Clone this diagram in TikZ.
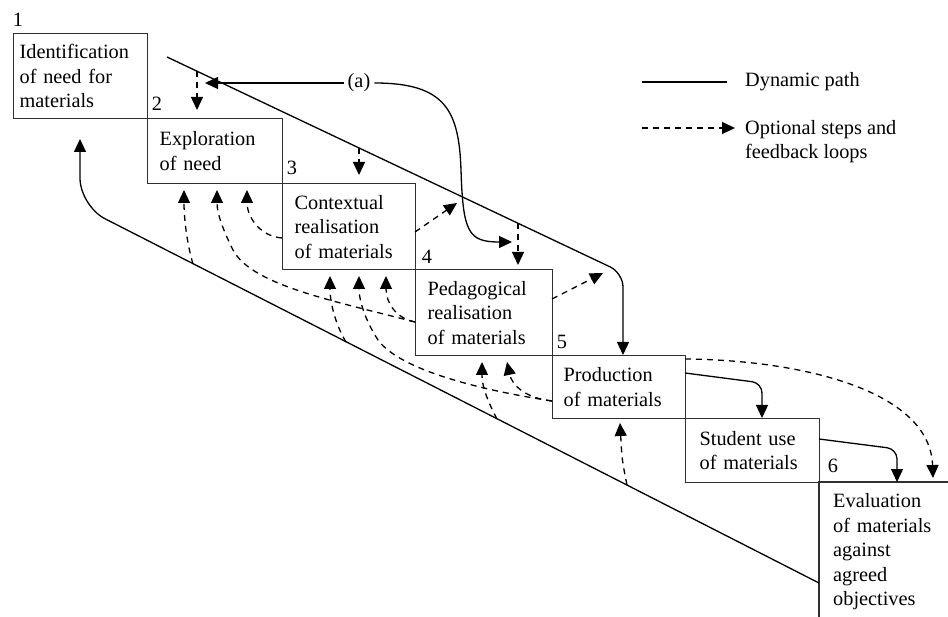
\documentclass[tikz,border=0pt]{standalone}
\usepackage{fontspec}
\setmainfont{Liberation Serif}
\usetikzlibrary{arrows.meta,calc}
\newcommand\diafont{\fontsize{20.3}{24.5}\selectfont}
\definecolor{boxgray}{HTML}{303030}
\tikzset{
  box/.style={draw=boxgray, line width=1.3pt, anchor=north west, align=left,
    inner ysep=0pt, font=\diafont},
  plain/.style={anchor=north west, align=left, inner ysep=0pt, font=\diafont},
  lbl/.style={inner sep=0pt, font=\diafont},
  tip/.style={-{Triangle[length=13pt,width=12pt]}},
  dyn/.style={line width=1.3pt, tip},
  opt/.style={line width=1.3pt, dash pattern=on 6pt off 5pt, tip},
  legline/.style={line width=1.3pt},
}
\begin{document}
\begin{tikzpicture}[x=1pt,y=-1pt]
\useasboundingbox (0,0) rectangle (948,617);

% boxes
\node[box, inner xsep=6pt, text width=122pt, minimum height=85pt] (b1) at (13,33)
  {Identification\\of need for\\materials};
\node[box, inner xsep=12pt, text width=111pt, minimum height=65pt] (b2) at (147,118)
  {Exploration\\of need};
\node[box, inner xsep=12pt, text width=109pt, minimum height=86pt] (b3) at (282,183)
  {Contextual\\realisation\\of materials};
\node[box, inner xsep=12pt, text width=113pt, minimum height=86pt] (b4) at (415,269)
  {Pedagogical\\realisation\\of materials};
\node[box, inner xsep=11pt, text width=111pt, minimum height=63pt] (b5) at (552,355)
  {Production\\of materials};
\node[box, inner xsep=14pt, text width=106pt, minimum height=64pt] (b6) at (685,418)
  {Student use\\of materials};
\node[plain, inner xsep=14pt, text width=120pt, minimum height=139pt] (b7) at (819,482)
  {Evaluation\\of materials\\against\\agreed\\objectives};
\draw[draw=boxgray, line width=1.3pt] (b7.south west) -- (b7.north west) -- (b7.north east);

% step numbers
\node[lbl] (n1) at (18,20) {1};
\node[lbl] (n2) at (157,104) {2};
\node[lbl] (n3) at (292,168) {3};
\node[lbl] (n4) at (427,257) {4};
\node[lbl] (n5) at (562,342) {5};
\node[lbl] (n6) at (833,466) {6};

% dynamic path: top diagonal
\coordinate (tA) at (167,57);
\coordinate (tB) at (623,273);
\draw[dyn, rounded corners=14pt] (tA) -- (tB) -- (tB |- b5.north);

% dynamic path: bottom diagonal back to step 1
\coordinate (bA) at (819,583);
\coordinate (bB) at (80,206);
\coordinate (bC) at (80,139);
\draw[dyn, rounded corners=28pt] (bA) -- (bB) -- (bC);

% (a) arrow
\node[lbl, inner xsep=4pt] (a) at (359,83) {(a)};
\coordinate (aL) at (205,83);
\coordinate (aR) at (512,242);
\draw[dyn] (a.west) -- (aL);
\draw[dyn] (a.east) .. controls (445,83) and (459,110) .. (461,170)
  .. controls (463,232) and (468,242) .. (aR);

% solid arrows 5 -> 6 -> evaluation
\coordinate (s5) at (685,373);
\coordinate (s5c) at (762,383);
\draw[dyn, rounded corners=10pt] (s5) -- (s5c) -- (s5c |- b6.north);
\coordinate (s6) at (819,439);
\coordinate (s6c) at (897,449);
\draw[dyn, rounded corners=10pt] (s6) -- (s6c) -- (s6c |- b7.north);

% optional steps: downward from top diagonal
\coordinate (d1s) at (197,71);  \coordinate (d1e) at (197,110);
\coordinate (d2s) at (359,148); \coordinate (d2e) at (359,175);
\coordinate (d3s) at (518,223); \coordinate (d3e) at (518,265);
\draw[opt] (d1s) -- (d1e);
\draw[opt] (d2s) -- (d2e);
\draw[opt] (d3s) -- (d3e);

% optional steps: from right sides up to diagonal
\coordinate (d4s) at (415,232); \coordinate (d4e) at (457,203);
\coordinate (d5s) at (552,299); \coordinate (d5e) at (603,273);
\draw[opt] (d4s) -- (d4e);
\draw[opt] (d5s) -- (d5e);

% optional: production to evaluation
\coordinate (d6s) at (685,359); \coordinate (d6e) at (933,478);
\draw[opt] (d6s) .. controls (800,360) and (930,390) .. (d6e);

% feedback loops below step 2
\coordinate (fAs) at (193,264); \coordinate (fAe) at (184,190);
\draw[opt] (fAs) .. controls (186,240) and (184,215) .. (fAe);
\coordinate (fBs) at (415,322); \coordinate (fBe) at (217,190);
\draw[opt] (fBs) .. controls (330,300) and (252,285) .. (233,250)
  .. controls (225,234) and (217,215) .. (fBe);
\coordinate (fHs) at (282,238); \coordinate (fHe) at (247,190);
\draw[opt] (fHs) .. controls (258,236) and (247,215) .. (fHe);

% feedback loops below step 3
\coordinate (fCs) at (346,342); \coordinate (fCe) at (330,276);
\draw[opt] (fCs) .. controls (334,322) and (330,300) .. (fCe);
\coordinate (fDs) at (552,401); \coordinate (fDe) at (359,276);
\draw[opt] (fDs) .. controls (480,390) and (400,370) .. (378,340)
  .. controls (365,320) and (359,300) .. (fDe);
\coordinate (fGs) at (415,322); \coordinate (fGe) at (386,276);
\draw[opt] (fGs) .. controls (395,318) and (386,302) .. (fGe);

% feedback loops below step 4
\coordinate (fEs) at (497,419); \coordinate (fEe) at (482,362);
\draw[opt] (fEs) .. controls (486,398) and (482,385) .. (fEe);
\coordinate (fFs) at (552,401); \coordinate (fFe) at (507,362);
\draw[opt] (fFs) .. controls (525,398) and (512,385) .. (fFe);

% feedback loop below step 5
\coordinate (fIs) at (627,485); \coordinate (fIe) at (620,423);
\draw[opt] (fIs) .. controls (622,460) .. (fIe);

% legend
\coordinate (l1a) at (642,82); \coordinate (l1b) at (727,82);
\draw[legline] (l1a) -- (l1b);
\node[lbl, anchor=west] (leg1) at (745,82) {Dynamic path};
\coordinate (l2a) at (642,128); \coordinate (l2b) at (735,128);
\draw[opt] (l2a) -- (l2b);
\node[lbl, anchor=west, align=left] (leg2) at (745,141.5) {Optional steps and\\feedback loops};
\end{tikzpicture}
\end{document}
